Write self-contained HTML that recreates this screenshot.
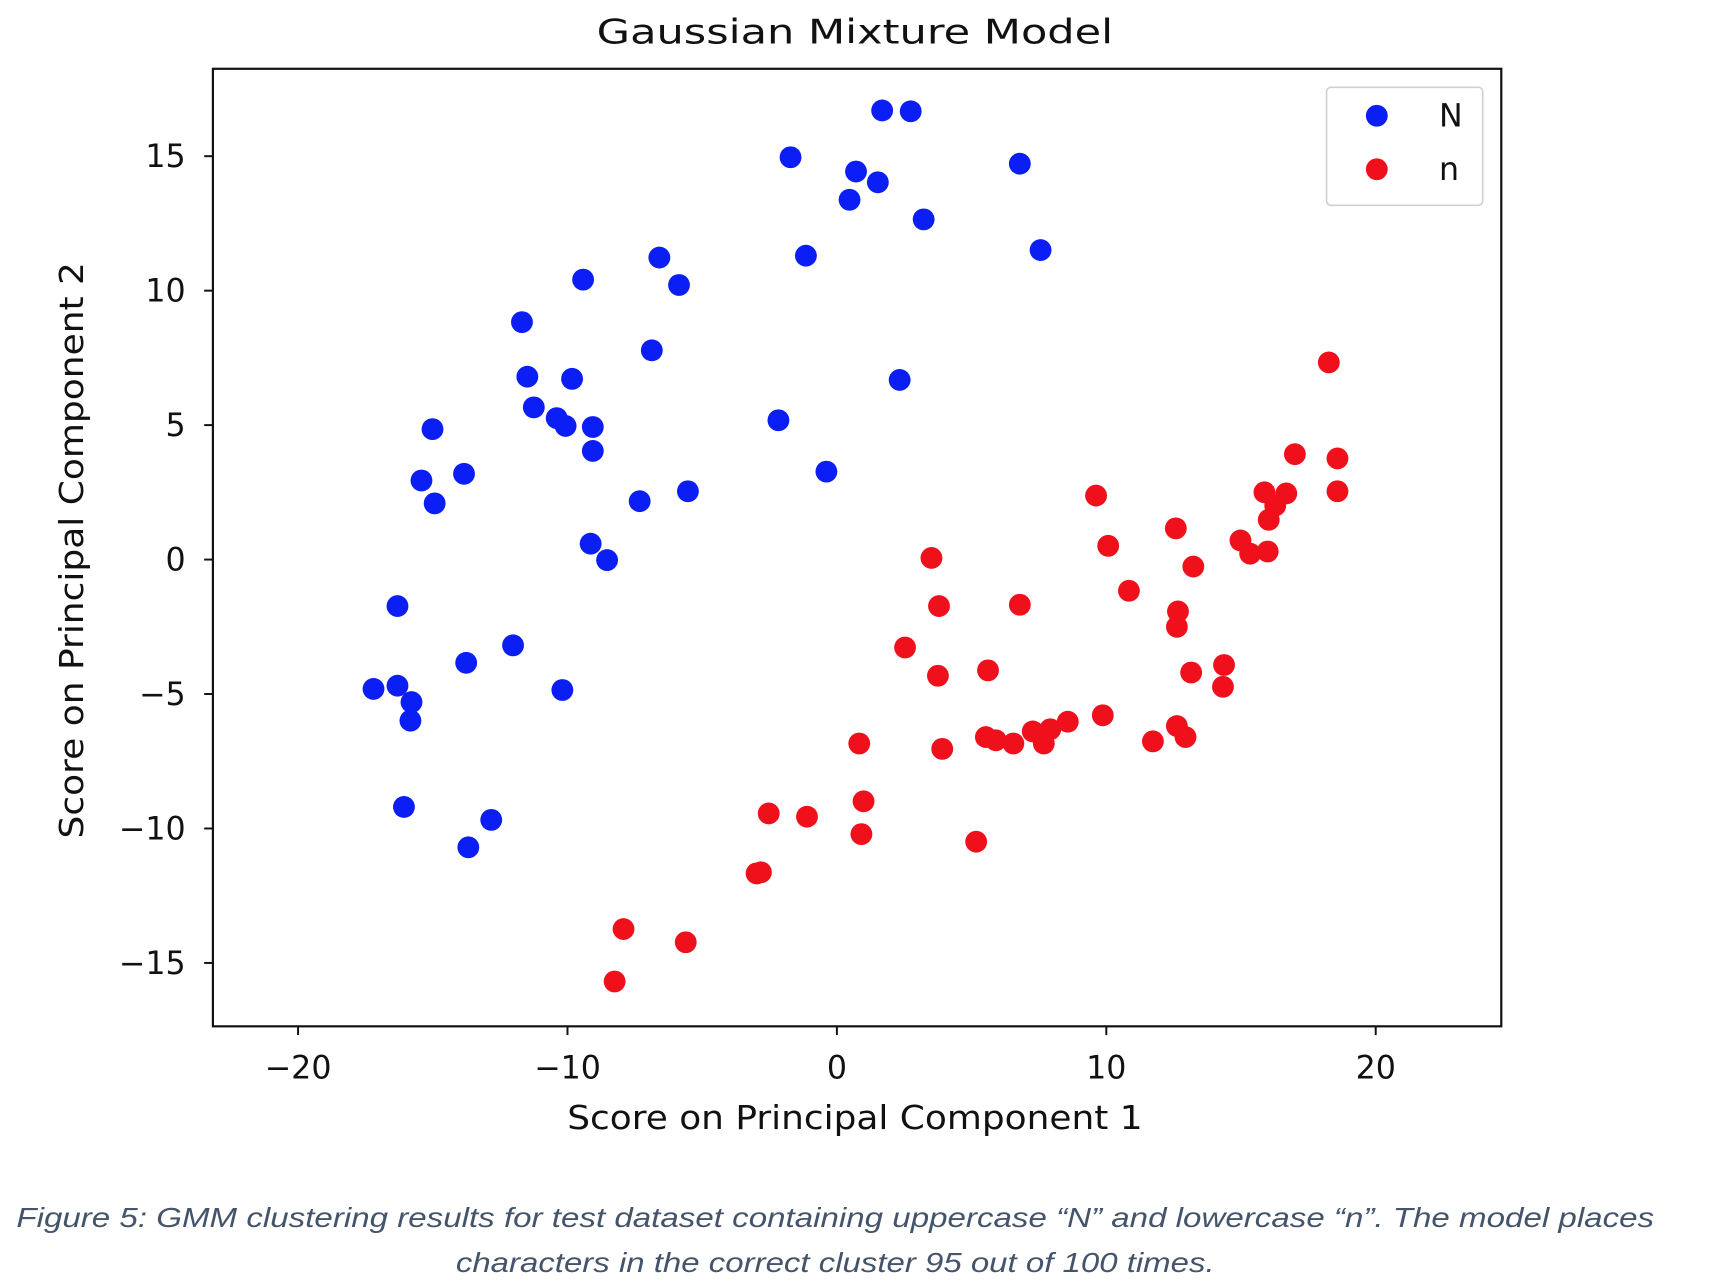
<!DOCTYPE html>
<html><head><meta charset="utf-8"><style>
html,body{margin:0;padding:0;background:#fff;}
svg{display:block;}
</style></head><body>
<svg id="chart" width="1712" height="1284" viewBox="0 0 1568 1176" preserveAspectRatio="none" xmlns="http://www.w3.org/2000/svg" font-family="'DejaVu Sans', 'Liberation Sans', sans-serif">
<rect width="1568" height="1176" fill="#fff"/>
<text x="783" y="40" text-anchor="middle" font-size="31" fill="#111" textLength="473" lengthAdjust="spacingAndGlyphs">Gaussian Mixture Model</text>
<g id="marks"></g>
<g id="axes"></g>
<rect x="195" y="63" width="1180" height="877" fill="none" stroke="#111" stroke-width="2"/>
<text x="783" y="1034" text-anchor="middle" font-size="30" fill="#111" textLength="527" lengthAdjust="spacingAndGlyphs">Score on Principal Component 1</text>
<text transform="translate(76,504) rotate(-90)" text-anchor="middle" font-size="30" fill="#111" textLength="528" lengthAdjust="spacingAndGlyphs">Score on Principal Component 2</text>
<g>
<rect x="1215" y="80" width="143" height="108" rx="4" fill="#fff" stroke="#d0d0d0" stroke-width="1.5"/>
<circle cx="1261" cy="106" r="10" fill="#0a1ef5"/>
<text x="1318" y="116" font-size="29" fill="#111">N</text>
<circle cx="1261" cy="155" r="10" fill="#f0101c"/>
<text x="1318" y="165" font-size="29" fill="#111">n</text>
</g>
<g font-family="'Liberation Sans', sans-serif" font-style="italic" font-size="25" fill="#44546a">
<text x="765" y="1124" text-anchor="middle" textLength="1500" lengthAdjust="spacingAndGlyphs">Figure 5: GMM clustering results for test dataset containing uppercase “N” and lowercase “n”. The model places</text>
<text x="765" y="1165" text-anchor="middle" textLength="695" lengthAdjust="spacingAndGlyphs">characters in the correct cluster 95 out of 100 times.</text>
</g>
</svg>
<script>
const xTicks = [-20, -10, 0, 10, 20];
const yTicks = [-15, -10, -5, 0, 5, 10, 15];
const blueX = [1.68,2.74,-1.72,0.71,1.52,0.47,3.22,6.79,7.56,-1.15,-6.59,-5.86,-9.42,-11.69,-6.87,-11.49,-9.83,-11.25,-10.4,-10.07,-9.06,-9.06,-15.01,-15.42,-14.93,-13.84,-7.32,-5.53,-2.17,-0.39,2.33,-9.14,-8.53,-16.31,-12.02,-13.76,-17.2,-16.31,-15.79,-15.83,-10.19,-16.07,-12.83,-13.68];
const blueY = [16.7,16.67,14.96,14.43,14.03,13.38,12.65,14.72,11.51,11.3,11.23,10.21,10.41,8.83,7.78,6.8,6.72,5.66,5.26,4.97,4.93,4.04,4.85,2.94,2.09,3.19,2.17,2.54,5.18,3.27,6.68,0.59,-0.02,-1.73,-3.19,-3.84,-4.81,-4.69,-5.3,-5.99,-4.85,-9.2,-9.68,-10.7];
const redX = [18.26,17.0,18.58,18.58,15.87,16.68,16.27,16.03,14.98,15.34,15.99,9.62,10.07,12.58,13.23,10.84,12.66,12.62,3.51,3.79,6.79,2.53,3.75,5.61,14.37,14.33,13.15,9.87,8.57,7.92,7.27,7.68,6.55,5.9,5.53,3.91,0.83,11.73,12.62,12.94,-2.53,-1.11,0.99,0.91,5.17,-2.98,-2.82,-7.92,-5.61,-8.25];
const redY = [7.33,3.92,3.76,2.54,2.5,2.46,2.01,1.48,0.71,0.22,0.3,2.38,0.51,1.16,-0.26,-1.16,-1.93,-2.5,0.06,-1.73,-1.68,-3.27,-4.32,-4.12,-3.92,-4.73,-4.2,-5.79,-6.03,-6.31,-6.39,-6.84,-6.84,-6.72,-6.6,-7.04,-6.84,-6.76,-6.19,-6.6,-9.44,-9.56,-8.99,-10.21,-10.49,-11.67,-11.63,-13.74,-14.23,-15.69];

const NS = 'http://www.w3.org/2000/svg';
const X0 = 766.5, XS = 24.675, Y0 = 512.5, YS = 24.63;
function sx(v){ return X0 + v*XS; }
function sy(v){ return Y0 - v*YS; }
const axes = document.getElementById('axes');
const marks = document.getElementById('marks');
function mk(tag, attrs, parent){ const e=document.createElementNS(NS,tag); for(const k in attrs) e.setAttribute(k,attrs[k]); parent.appendChild(e); return e; }
xTicks.forEach(v=>{
  const t = mk('line',{x1:sx(v),x2:sx(v),y1:940,y2:948,stroke:'#111','stroke-width':1.8},axes);
  
  
  const l = mk('text',{x:sx(v),y:988,'text-anchor':'middle','font-size':29,fill:'#111'},axes);
  
  
  l.textContent = v<0 ? '\u2212'+Math.abs(v) : String(v);
});
yTicks.forEach(v=>{
  const t = mk('line',{x1:187,x2:195,y1:sy(v),y2:sy(v),stroke:'#111','stroke-width':1.8},axes);
  
  
  const l = mk('text',{x:170,y:sy(v)+10,'text-anchor':'end','font-size':29,fill:'#111'},axes);
  
  
  l.textContent = v<0 ? '\u2212'+Math.abs(v) : String(v);
});
blueX.forEach((v,i)=>{
  const c = mk('circle',{cx:sx(v),cy:sy(blueY[i]),r:10,fill:'#0a1ef5'},marks);
  
  
});
redX.forEach((v,i)=>{
  const c = mk('circle',{cx:sx(v),cy:sy(redY[i]),r:10,fill:'#f0101c'},marks);
  
  
});
</script>
</body></html>
